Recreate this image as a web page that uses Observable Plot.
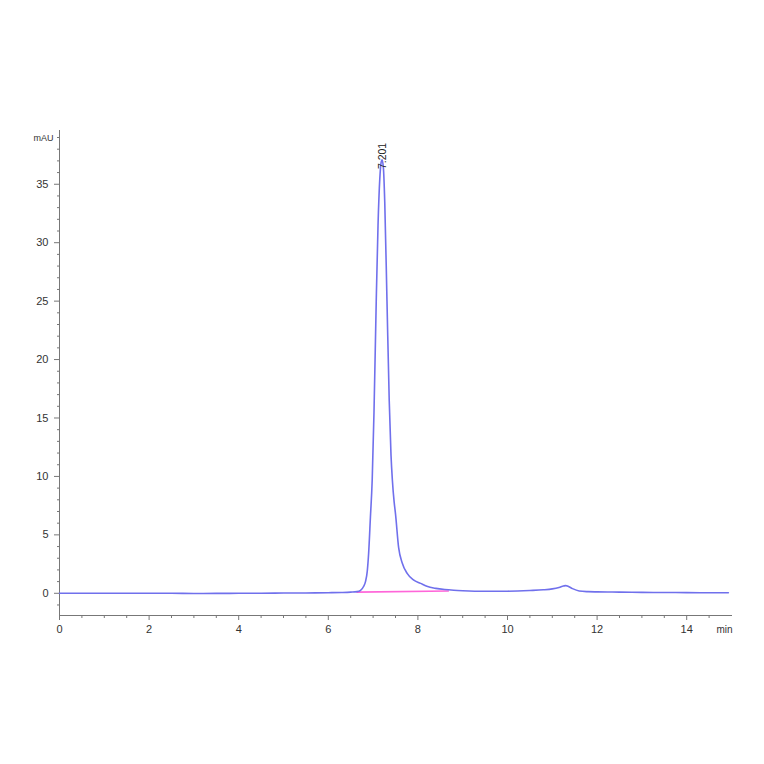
<!DOCTYPE html>
<html>
<head>
<meta charset="utf-8">
<script src="https://cdn.jsdelivr.net/npm/d3@7"></script>
<script src="https://cdn.jsdelivr.net/npm/@observablehq/plot@0.6"></script>
<style>
  html, body { margin: 0; padding: 0; background: #fff; }
  #chart svg { display: block; }
</style>
</head>
<body>
<div id="chart"></div>
<script>
// Retention time (min) and absorbance (mAU)
const times = [0, 0.5, 1, 1.5, 2, 2.5, 3, 3.5, 4, 4.5, 5, 5.5, 6, 6.3, 6.5, 6.64, 6.72, 6.79, 6.83, 6.87, 6.9, 6.94, 6.98, 7.02, 7.07, 7.11, 7.15, 7.18, 7.2, 7.23, 7.26, 7.31, 7.36, 7.4, 7.43, 7.47, 7.5, 7.57, 7.65, 7.76, 7.9, 8.06, 8.2, 8.4, 8.6, 8.8, 9.0, 9.5, 10.0, 10.5, 10.8, 11.0, 11.15, 11.25, 11.3, 11.35, 11.45, 11.6, 11.8, 12.0, 12.5, 13.0, 13.5, 14.0, 14.5, 14.93];
const mAU   = [0.0, 0.01, 0.0, 0.0, 0.0, 0.0, -0.02, -0.01, 0.0, 0.0, 0.02, 0.03, 0.05, 0.07, 0.1, 0.14, 0.25, 0.6, 1.0, 1.9, 3.4, 6.5, 9.7, 15.5, 25.0, 31.5, 35.5, 36.9, 37.1, 36.4, 33.5, 25.0, 16.5, 11.8, 9.7, 7.8, 6.8, 3.9, 2.6, 1.7, 1.15, 0.85, 0.6, 0.42, 0.32, 0.26, 0.22, 0.17, 0.18, 0.24, 0.3, 0.38, 0.5, 0.62, 0.66, 0.6, 0.4, 0.2, 0.14, 0.12, 0.1, 0.08, 0.07, 0.06, 0.05, 0.05];

// Integration baseline under the main peak
const baseTimes = [6.64, 8.68];
const baseMAU = [0.1, 0.2];

// Peak annotation
const peakTime = [7.22];
const peakHeight = [36.3];
const peakLabel = ["7.201"];

// Axis ticks
const xTicks = [0, 2, 4, 6, 8, 10, 12, 14];
const xMinor = [0.5, 1, 1.5, 2.5, 3, 3.5, 4.5, 5, 5.5, 6.5, 7, 7.5, 8.5, 9, 9.5, 10.5, 11, 11.5, 12.5, 13, 13.5, 14.5];
const yTicks = [0, 5, 10, 15, 20, 25, 30, 35];
const yMinor = [-1, 1, 2, 3, 4, 6, 7, 8, 9, 11, 12, 13, 14, 16, 17, 18, 19, 21, 22, 23, 24, 26, 27, 28, 29, 31, 32, 33, 34, 36, 37, 38, 39];

const trace = times.map((t, i) => ({t, v: mAU[i]}));
const base = baseTimes.map((t, i) => ({t, v: baseMAU[i]}));
const peaks = peakTime.map((t, i) => ({t, v: peakHeight[i], label: peakLabel[i]}));

const axisColor = "#777";
const textColor = "#333";

const chart = Plot.plot({
  width: 764,
  height: 764,
  marginLeft: 59,
  marginRight: 33,
  marginTop: 130,
  marginBottom: 149,
  style: {fontFamily: "'Liberation Sans', Arial, sans-serif", fontSize: "11px", background: "#fff", color: textColor},
  x: {domain: [0, 15]},
  y: {domain: [-1.9, 39.6]},
  marks: [
    Plot.frame({anchor: "bottom", stroke: axisColor}),
    Plot.frame({anchor: "left", stroke: axisColor}),
    Plot.axisX({ticks: xTicks, tickSize: 5, tickPadding: 5, label: null, stroke: axisColor, fill: textColor, fontSize: 11}),
    Plot.axisX({ticks: xMinor, tickSize: 3, text: null, label: null, stroke: axisColor}),
    Plot.axisY({ticks: yTicks, tickSize: 5, tickPadding: 6, label: null, stroke: axisColor, fill: textColor, fontSize: 11}),
    Plot.axisY({ticks: yMinor, tickSize: 2, text: null, label: null, stroke: axisColor}),
    Plot.line(base, {x: "t", y: "v", stroke: "#ff66d9", strokeWidth: 1.6}),
    Plot.line(trace, {x: "t", y: "v", stroke: "#7070ec", strokeWidth: 1.6, curve: "monotone-x"}),
    Plot.text(peaks, {x: "t", y: "v", text: "label", rotate: -90, textAnchor: "start", fill: "#222", fontSize: 10.5}),
    Plot.text(["mAU"], {frameAnchor: "top-left", dx: -26, dy: 4, textAnchor: "start", fill: textColor, fontSize: 9}),
    Plot.text(["min"], {frameAnchor: "bottom-right", dx: -7, dy: 17, textAnchor: "middle", fill: textColor, fontSize: 10})
  ]
});
document.getElementById("chart").appendChild(chart);
</script>
</body>
</html>
